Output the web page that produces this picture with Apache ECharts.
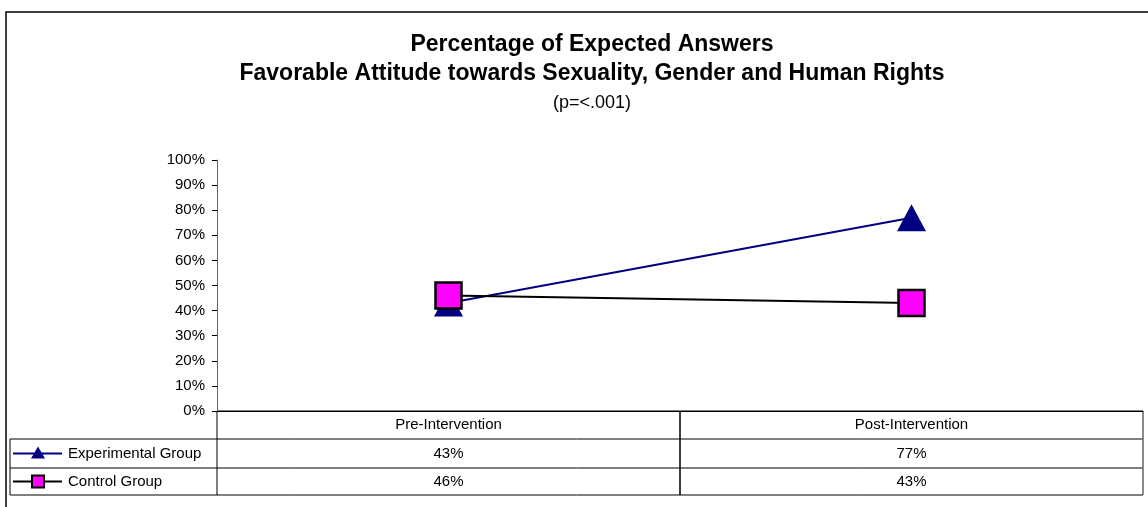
<!DOCTYPE html>
<html>
<head>
<meta charset="utf-8">
<script src="https://cdn.jsdelivr.net/npm/echarts@6/dist/echarts.min.js"></script>
<style>
  html, body { margin: 0; padding: 0; background: #fff; }
</style>
</head>
<body>
<div id="main" style="width: 1148px; height: 507px;"></div>
<script>
// data
var categories = ['Pre-Intervention', 'Post-Intervention'];
var seriesNames = ['Experimental Group', 'Control Group'];
var experimental = [43, 77];
var control = [46, 43];

var FONT = '"Liberation Sans", Arial, sans-serif';
var gridLeft = 217, gridRight = 5, gridTop = 160, gridBottom = 96;
var W = 1148, H = 507;

var chartDom = document.getElementById('main');
var myChart = echarts.init(chartDom);

var option = {
  animation: false,
  backgroundColor: '#fff',
  title: [
    {
      text: 'Percentage of Expected Answers\nFavorable Attitude towards Sexuality, Gender and Human Rights',
      left: 587, top: 25, textAlign: 'center',
      textStyle: { fontFamily: FONT, fontSize: 23, fontWeight: 'bold', color: '#000', lineHeight: 29 }
    },
    {
      text: '(p=<.001)',
      left: 587, top: 89, textAlign: 'center',
      textStyle: { fontFamily: FONT, fontSize: 18, fontWeight: 'normal', color: '#000' }
    }
  ],
  grid: { left: gridLeft, right: gridRight, top: gridTop, bottom: gridBottom },
  xAxis: {
    type: 'category',
    data: categories,
    boundaryGap: true,
    axisLine: { lineStyle: { color: '#000', width: 1 } },
    axisTick: { show: false },
    axisLabel: { show: false }
  },
  yAxis: {
    type: 'value',
    min: 0, max: 100, interval: 10,
    axisLine: { show: true, lineStyle: { color: '#666', width: 1 } },
    axisTick: { show: true, length: 5, lineStyle: { color: '#000' } },
    splitLine: { show: false },
    axisLabel: {
      margin: 12,
      fontFamily: FONT, fontSize: 15, color: '#000',
      formatter: function (v) { return v + '%'; }
    }
  },
  series: [
    {
      name: seriesNames[0],
      type: 'line',
      data: experimental,
      symbol: 'triangle',
      symbolSize: [29, 27],
      lineStyle: { color: '#000080', width: 2 },
      itemStyle: { color: '#000080' }
    },
    {
      name: seriesNames[1],
      type: 'line',
      data: control,
      symbol: 'rect',
      symbolSize: 26,
      lineStyle: { color: '#000', width: 2 },
      itemStyle: { color: '#ff00ff', borderColor: '#000', borderWidth: 2.5 }
    }
  ]
};

myChart.setOption(option);

// data table under the plot, built from the arrays above
var tableTop = H - gridBottom;
var rowH = [28, 29, 27];
var tableLeft = 10, tableRight = W - gridRight;
var midX = (gridLeft + tableRight) / 2;
var rows = [experimental, control];
var lineColors = ['#000080', '#000'];
var g = [];

// outer chart border
g.push({ type: 'rect', shape: { x: 6, y: 12, width: W + 20, height: H + 20 },
  style: { fill: null, stroke: '#000', lineWidth: 1.5 }, silent: true });

var yLines = [tableTop];
for (var r = 0; r < rowH.length; r++) yLines.push(yLines[r] + rowH[r]);

// horizontal lines
g.push({ type: 'line', shape: { x1: gridLeft, y1: yLines[0], x2: tableRight, y2: yLines[0] }, style: { stroke: '#000', lineWidth: 1 } });
for (var k = 1; k < yLines.length; k++) {
  g.push({ type: 'line', shape: { x1: tableLeft, y1: yLines[k], x2: tableRight, y2: yLines[k] }, style: { stroke: '#000', lineWidth: 1 } });
}
// vertical lines
g.push({ type: 'line', shape: { x1: tableLeft, y1: yLines[1], x2: tableLeft, y2: yLines[3] }, style: { stroke: '#000', lineWidth: 1 } });
g.push({ type: 'line', shape: { x1: gridLeft, y1: yLines[0], x2: gridLeft, y2: yLines[3] }, style: { stroke: '#000', lineWidth: 1 } });
g.push({ type: 'line', shape: { x1: midX, y1: yLines[0], x2: midX, y2: yLines[3] }, style: { stroke: '#000', lineWidth: 1.5 } });
g.push({ type: 'line', shape: { x1: tableRight, y1: yLines[0], x2: tableRight, y2: yLines[3] }, style: { stroke: '#666', lineWidth: 1.5 } });

// header and values
for (var c = 0; c < categories.length; c++) {
  var cx = myChart.convertToPixel({ xAxisIndex: 0 }, categories[c]);
  g.push({ type: 'text', x: cx, y: (yLines[0] + yLines[1]) / 2,
    style: { text: categories[c], font: '15px ' + FONT, fill: '#000', align: 'center', verticalAlign: 'middle' } });
  for (var s = 0; s < rows.length; s++) {
    g.push({ type: 'text', x: cx, y: (yLines[s + 1] + yLines[s + 2]) / 2,
      style: { text: rows[s][c] + '%', font: '15px ' + FONT, fill: '#000', align: 'center', verticalAlign: 'middle' } });
  }
}

// legend keys in the table
for (var s2 = 0; s2 < seriesNames.length; s2++) {
  var ry = (yLines[s2 + 1] + yLines[s2 + 2]) / 2;
  g.push({ type: 'line', shape: { x1: 13, y1: ry, x2: 62, y2: ry }, style: { stroke: lineColors[s2], lineWidth: 2 } });
  if (s2 === 0) {
    g.push({ type: 'polygon', shape: { points: [[38, ry - 7], [45, ry + 5], [31, ry + 5]] }, style: { fill: '#000080' } });
  } else {
    g.push({ type: 'rect', shape: { x: 32, y: ry - 6, width: 12, height: 12 }, style: { fill: '#ff00ff', stroke: '#000', lineWidth: 2 } });
  }
  g.push({ type: 'text', x: 68, y: ry,
    style: { text: seriesNames[s2], font: '15px ' + FONT, fill: '#000', align: 'left', verticalAlign: 'middle' } });
}

myChart.setOption({ graphic: g });
</script>
</body>
</html>
